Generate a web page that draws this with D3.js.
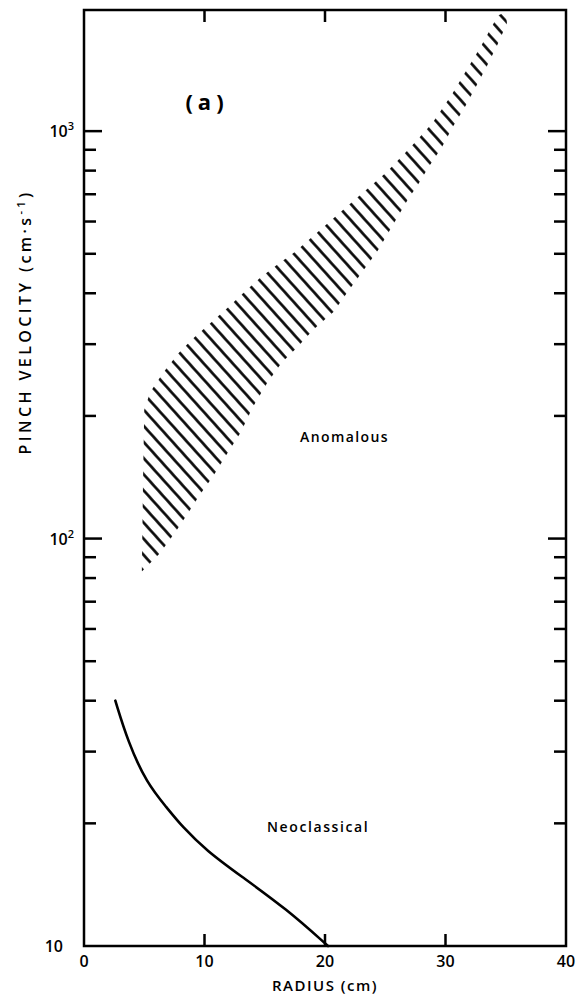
<!DOCTYPE html>
<html>
<head>
<meta charset="utf-8">
<script src="https://cdn.jsdelivr.net/npm/d3@7/dist/d3.min.js"></script>
<style>
  html, body { margin: 0; padding: 0; background: #fff; }
  svg { display: block; }
  text { font-family: "Open Sans", "DejaVu Sans", sans-serif; fill: #000; }
</style>
</head>
<body>
<svg id="chart" width="584" height="996"></svg>
<script>
// Axis values
const xTickValues = [0, 10, 20, 30, 40];
const xInnerTicks = [10, 20, 30];
const yDecades = [10, 100, 1000];
const yDecadeLabels = [["10", ""], ["10", "2"], ["10", "3"]];
const yMinorTicks = [20, 30, 40, 50, 60, 70, 80, 90, 200, 300, 400, 500, 600, 700, 800, 900];

// Neoclassical pinch velocity vs radius
const neoRadius = [2.6, 3.65, 5.2, 6.9, 8.1, 10.2, 12.95, 16.85, 20.25];
const neoVelocity = [40, 31.7, 25.1, 21.8, 19.7, 17.1, 14.9, 12.3, 10.0];

// Anomalous band: upper and lower edges
const bandUpperRadius = [4.8, 4.9, 5.0, 5.5, 6.6, 7.8, 9.0, 10.5, 11.9, 13.2, 14.6, 16.0, 17.5, 21.3, 25.1, 27.1, 28.9, 30.5, 31.9, 32.9, 33.9, 34.4, 35.0];
const bandUpperVelocity = [83, 139, 207, 229, 256, 284, 309, 338, 368, 400, 436, 469, 505, 633, 793, 913, 1046, 1226, 1436, 1607, 1820, 1926, 1960];
const bandLowerRadius = [4.8, 6.3, 7.7, 8.6, 9.6, 10.7, 11.9, 13.0, 14.0, 15.2, 16.4, 17.7, 19.0, 20.7, 21.8, 24.4, 27.0, 27.6, 28.6, 29.7, 30.6, 31.6, 32.5, 33.4, 34.3, 35.1];
const bandLowerVelocity = [83, 92, 105, 115, 128, 142, 162, 182, 210, 241, 270, 295, 325, 360, 400, 510, 689, 729, 816, 913, 1023, 1145, 1282, 1436, 1626, 1841];

const svg = d3.select("#chart");
const x = d3.scaleLinear().domain([0, 40]).range([84, 566]);
const y = d3.scaleLog().domain([10, 1983]).range([946, 10]);

const ink = "#000";

// Hatch pattern for the anomalous band
const defs = svg.append("defs");
const sp = 10.8;
const pat = defs.append("pattern")
  .attr("id", "hatch")
  .attr("patternUnits", "userSpaceOnUse")
  .attr("width", sp).attr("height", sp)
  .attr("patternTransform", "rotate(48)");
pat.append("line")
  .attr("x1", -1).attr("x2", sp + 1)
  .attr("y1", sp / 2).attr("y2", sp / 2)
  .attr("stroke", ink).attr("stroke-width", 2.6);

const upper = bandUpperRadius.map((r, i) => [r, bandUpperVelocity[i]]);
const lower = bandLowerRadius.map((r, i) => [r, bandLowerVelocity[i]]);
const bandPts = upper.concat(lower.slice().reverse());
svg.append("path")
  .attr("d", d3.line().x(d => x(d[0])).y(d => y(d[1])).curve(d3.curveLinearClosed)(bandPts))
  .attr("fill", "url(#hatch)")
  .attr("stroke", "none");

// Neoclassical curve
const neo = neoRadius.map((r, i) => [r, neoVelocity[i]]);
svg.append("path")
  .attr("d", d3.line().x(d => x(d[0])).y(d => y(d[1])).curve(d3.curveBasis)(neo))
  .attr("fill", "none")
  .attr("stroke", ink)
  .attr("stroke-width", 2.6)
  .attr("stroke-linecap", "round");

// Frame
const [xl, xr] = x.range();
const [yb, yt] = y.range();
svg.append("rect")
  .attr("x", xl).attr("y", yt)
  .attr("width", xr - xl).attr("height", yb - yt)
  .attr("fill", "none").attr("stroke", ink).attr("stroke-width", 2.5);

// Inward ticks on left and right
const majorLen = 18, minorLen = 12;
const yTickData = yDecades.filter(v => v > 10).map(v => ({ v, len: majorLen }))
  .concat(yMinorTicks.map(v => ({ v, len: minorLen })));
svg.append("g").selectAll("line").data(yTickData).join("line")
  .attr("x1", xl).attr("x2", d => xl + d.len)
  .attr("y1", d => y(d.v)).attr("y2", d => y(d.v))
  .attr("stroke", ink).attr("stroke-width", 2.5);
svg.append("g").selectAll("line").data(yTickData).join("line")
  .attr("x1", xr).attr("x2", d => xr - d.len)
  .attr("y1", d => y(d.v)).attr("y2", d => y(d.v))
  .attr("stroke", ink).attr("stroke-width", 2.5);

// Inward ticks on bottom and top
svg.append("g").selectAll("line").data(xInnerTicks).join("line")
  .attr("x1", d => x(d)).attr("x2", d => x(d))
  .attr("y1", yb).attr("y2", yb - 12)
  .attr("stroke", ink).attr("stroke-width", 2.5);
svg.append("g").selectAll("line").data(xInnerTicks).join("line")
  .attr("x1", d => x(d)).attr("x2", d => x(d))
  .attr("y1", yt).attr("y2", yt + 12)
  .attr("stroke", ink).attr("stroke-width", 2.5);

// X tick labels
svg.append("g").selectAll("text").data(xTickValues).join("text")
  .attr("x", d => x(d)).attr("y", yb + 21)
  .attr("text-anchor", "middle")
  .attr("font-size", 16).attr("font-weight", 600)
  .text(d => d);

// Y decade labels with superscripts
svg.append("g").selectAll("text").data(yDecades).join("text")
  .attr("y", d => y(d) + 6)
  .attr("text-anchor", "end")
  .attr("font-size", 16).attr("font-weight", 600)
  .each(function (d, i) {
    const t = d3.select(this);
    const [base, sup] = yDecadeLabels[i];
    if (sup) {
      t.attr("x", 74);
      t.append("tspan").text(base);
      t.append("tspan").attr("dy", -7).attr("font-size", 11).text(sup);
    } else {
      t.attr("x", 63).text(base);
    }
  });

// Axis titles
svg.append("text")
  .attr("x", (xl + xr) / 2).attr("y", 991)
  .attr("text-anchor", "middle")
  .attr("font-size", 15).attr("font-weight", 600)
  .attr("letter-spacing", 1.5)
  .text("RADIUS (cm)");

const yTitle = svg.append("text")
  .attr("transform", "translate(31,322) rotate(-90)")
  .attr("text-anchor", "middle")
  .attr("font-size", 16).attr("font-weight", 600)
  .attr("letter-spacing", 3.4);
yTitle.append("tspan").text("PINCH VELOCITY (cm\u00B7s");
yTitle.append("tspan").attr("dy", -6).attr("font-size", 11).text("-1");
yTitle.append("tspan").attr("dy", 6).text(")");

// Annotations
svg.append("text")
  .attr("x", 207).attr("y", 110)
  .attr("text-anchor", "middle")
  .attr("font-size", 22).attr("font-weight", 700)
  .attr("letter-spacing", 5)
  .text("(a)");

svg.append("text")
  .attr("x", 300).attr("y", 442)
  .attr("font-size", 14).attr("font-weight", 600)
  .attr("letter-spacing", 1.4)
  .text("Anomalous");

svg.append("text")
  .attr("x", 267).attr("y", 832)
  .attr("font-size", 14).attr("font-weight", 600)
  .attr("letter-spacing", 1.6)
  .text("Neoclassical");
</script>
</body>
</html>
